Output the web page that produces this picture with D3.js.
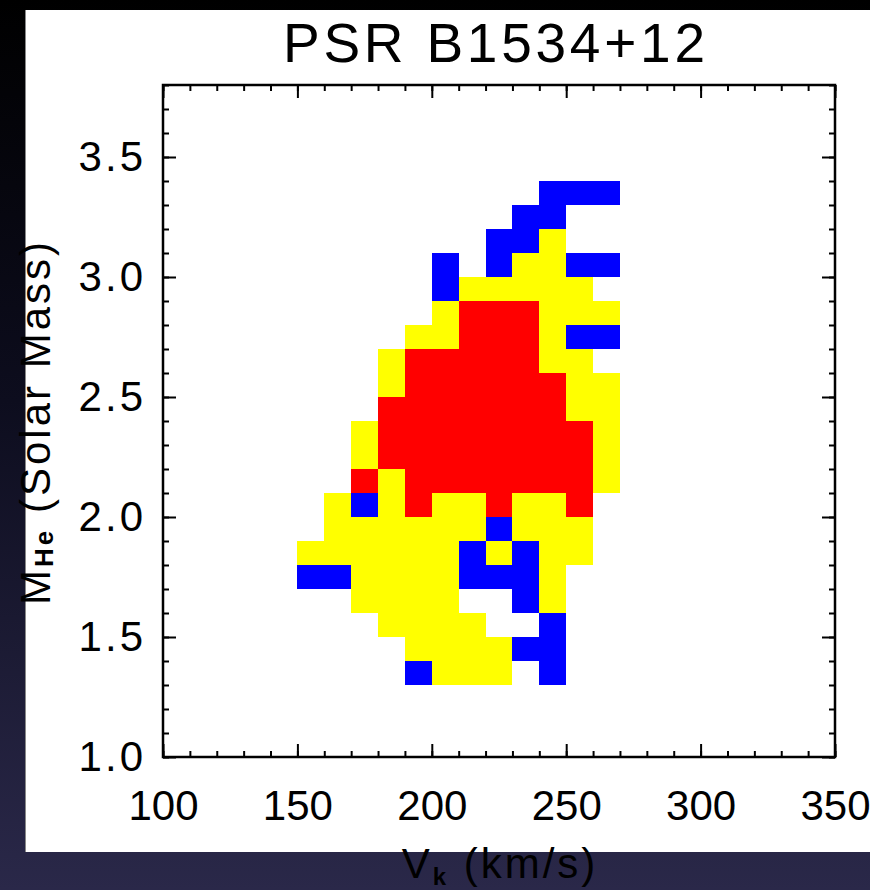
<!DOCTYPE html>
<html>
<head>
<meta charset="utf-8">
<script src="https://cdn.jsdelivr.net/npm/d3@7"></script>
<style>
  html, body { margin: 0; padding: 0; background: #000; }
  svg { display: block; }
</style>
</head>
<body>
<svg id="chart" width="870" height="890"></svg>
<script>
// ---- data ----
const title = "PSR B1534+12";
const xTicks = [100, 150, 200, 250, 300, 350];
const yTicks = [1.0, 1.5, 2.0, 2.5, 3.0, 3.5];
// left edge of each velocity bin (km/s), width 10
const vkBins = [150, 160, 170, 180, 190, 200, 210, 220, 230, 240, 250, 260];
// lower edge of each mass bin (solar mass), height 0.1, top row first
const massBins = [3.3, 3.2, 3.1, 3.0, 2.9, 2.8, 2.7, 2.6, 2.5, 2.4, 2.3, 2.2, 2.1, 2.0, 1.9, 1.8, 1.7, 1.6, 1.5, 1.4, 1.3];
// confidence level per cell: 0 none, 1 yellow, 2 red, 3 blue
const levels = [
  [0,0,0,0,0,0,0,0,0,3,3,3],
  [0,0,0,0,0,0,0,0,3,3,0,0],
  [0,0,0,0,0,0,0,3,3,1,0,0],
  [0,0,0,0,0,3,0,3,1,1,3,3],
  [0,0,0,0,0,3,1,1,1,1,1,0],
  [0,0,0,0,0,1,2,2,2,1,1,1],
  [0,0,0,0,1,1,2,2,2,1,3,3],
  [0,0,0,1,2,2,2,2,2,1,1,0],
  [0,0,0,1,2,2,2,2,2,2,1,1],
  [0,0,0,2,2,2,2,2,2,2,1,1],
  [0,0,1,2,2,2,2,2,2,2,2,1],
  [0,0,1,2,2,2,2,2,2,2,2,1],
  [0,0,2,1,2,2,2,2,2,2,2,1],
  [0,1,3,1,2,1,1,2,1,1,2,0],
  [0,1,1,1,1,1,1,3,1,1,1,0],
  [1,1,1,1,1,1,3,1,3,1,1,0],
  [3,3,1,1,1,1,3,3,3,1,0,0],
  [0,0,1,1,1,1,0,0,3,1,0,0],
  [0,0,0,1,1,1,1,0,0,3,0,0],
  [0,0,0,0,1,1,1,1,3,3,0,0],
  [0,0,0,0,3,1,1,1,0,3,0,0]
];
const levelColors = ["none", "#ffff00", "#ff0000", "#0000ff"];
const binW = 10, binH = 0.1;

// ---- drawing ----
const svg = d3.select("#chart");
const defs = svg.append("defs");
const grad = defs.append("linearGradient").attr("id", "bg").attr("x1", 0).attr("y1", 0).attr("x2", 0).attr("y2", 1);
grad.append("stop").attr("offset", "0%").attr("stop-color", "#000000");
grad.append("stop").attr("offset", "45%").attr("stop-color", "#0d0d1e");
grad.append("stop").attr("offset", "100%").attr("stop-color", "#2a2849");
svg.append("rect").attr("width", 870).attr("height", 890).attr("fill", "url(#bg)");

// white panel
svg.append("rect").attr("x", 25).attr("y", 10).attr("width", 845).attr("height", 842).attr("fill", "#ffffff");
svg.append("line").attr("x1", 25.5).attr("x2", 25.5).attr("y1", 10).attr("y2", 852).attr("stroke", "#888").attr("stroke-width", 1);

const x = d3.scaleLinear().domain([100, 350]).range([163, 835]);
const y = d3.scaleLinear().domain([1.0, 3.8]).range([757, 85]);

// cells
const cells = [];
massBins.forEach((m, i) => vkBins.forEach((v, j) => {
  if (levels[i][j] > 0) cells.push({ v, m, c: levels[i][j] });
}));
svg.append("g").selectAll("rect").data(cells).join("rect")
  .attr("x", d => x(d.v))
  .attr("y", d => y(d.m + binH))
  .attr("width", d => x(d.v + binW) - x(d.v))
  .attr("height", d => y(d.m) - y(d.m + binH))
  .attr("fill", d => levelColors[d.c])
  .attr("shape-rendering", "crispEdges");

const font = "'Liberation Sans', Arial, Helvetica, sans-serif";
const xMinor = d3.range(100, 351, 10);
const yMinor = d3.range(10, 39, 1).map(d => d / 10);

function styleAxis(g) {
  g.select(".domain").remove();
  g.selectAll("line").attr("stroke", "#000").attr("stroke-width", 2);
  g.selectAll("text").attr("font-family", font).attr("fill", "#000");
}

// minor ticks
svg.append("g").attr("transform", `translate(0,${y(1.0)})`)
  .call(d3.axisBottom(x).tickValues(xMinor).tickSize(-6).tickFormat("")).call(styleAxis);
svg.append("g").attr("transform", `translate(0,${y(3.8)})`)
  .call(d3.axisTop(x).tickValues(xMinor).tickSize(-6).tickFormat("")).call(styleAxis);
svg.append("g").attr("transform", `translate(${x(100)},0)`)
  .call(d3.axisLeft(y).tickValues(yMinor).tickSize(-6).tickFormat("")).call(styleAxis);
svg.append("g").attr("transform", `translate(${x(350)},0)`)
  .call(d3.axisRight(y).tickValues(yMinor).tickSize(-6).tickFormat("")).call(styleAxis);

// major ticks + labels
svg.append("g").attr("transform", `translate(0,${y(1.0)})`)
  .call(d3.axisBottom(x).tickValues(xTicks).tickSize(-13).tickPadding(33).tickFormat(d3.format("d")))
  .call(styleAxis)
  .call(g => g.selectAll("text").attr("font-size", 42));
svg.append("g").attr("transform", `translate(0,${y(3.8)})`)
  .call(d3.axisTop(x).tickValues(xTicks).tickSize(-13).tickFormat("")).call(styleAxis);
svg.append("g").attr("transform", `translate(${x(100)},0)`)
  .call(d3.axisLeft(y).tickValues(yTicks).tickSize(-13).tickPadding(17).tickFormat(d3.format(".1f")))
  .call(styleAxis)
  .call(g => g.selectAll("text").attr("font-size", 42).attr("letter-spacing", "3px"));
svg.append("g").attr("transform", `translate(${x(350)},0)`)
  .call(d3.axisRight(y).tickValues(yTicks).tickSize(-13).tickFormat("")).call(styleAxis);

// frame
svg.append("rect")
  .attr("x", x(100)).attr("y", y(3.8))
  .attr("width", x(350) - x(100)).attr("height", y(1.0) - y(3.8))
  .attr("fill", "none").attr("stroke", "#000").attr("stroke-width", 2.5);

// title
svg.append("text").attr("x", 494).attr("y", 62)
  .attr("text-anchor", "middle").attr("font-family", font).attr("font-size", 55)
  .attr("textLength", 422).attr("lengthAdjust", "spacing")
  .text(title);

// x axis title
const xt = svg.append("text").attr("x", 500).attr("y", 878)
  .attr("text-anchor", "middle").attr("font-family", font).attr("font-size", 42)
  .attr("letter-spacing", "3px").attr("fill", "#000");
xt.append("tspan").text("V");
xt.append("tspan").attr("font-size", 24).attr("font-weight", "bold").attr("dy", 7).text("k");
xt.append("tspan").attr("dy", -7).text(" (km/s)");

// y axis title
const yt = svg.append("text").attr("transform", "translate(50,422) rotate(-90)")
  .attr("text-anchor", "middle").attr("font-family", font).attr("font-size", 42)
  .attr("letter-spacing", "3px").attr("fill", "#000");
yt.append("tspan").text("M");
yt.append("tspan").attr("font-size", 26).attr("font-weight", "bold").attr("dy", 3).text("He");
yt.append("tspan").attr("dy", -3).text(" (Solar Mass)");
</script>
</body>
</html>
